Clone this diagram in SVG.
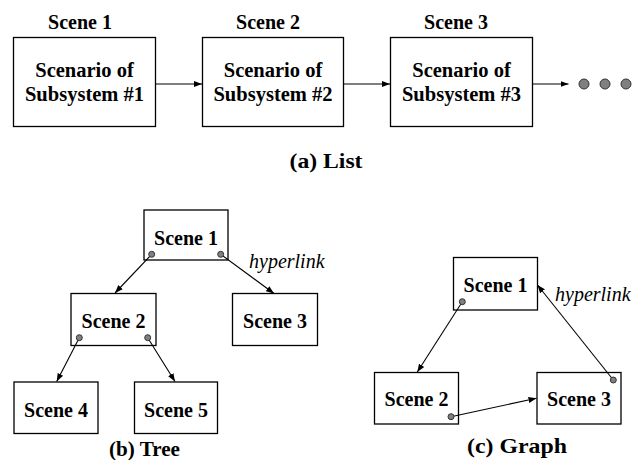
<svg xmlns="http://www.w3.org/2000/svg" width="643" height="460" viewBox="0 0 643 460">
<defs>
<marker id="ah" viewBox="0 0 10 10" refX="10" refY="5" markerWidth="8" markerHeight="8" markerUnits="userSpaceOnUse" orient="auto">
<path d="M0,1.2 L10,5 L0,8.8 z" fill="#000"/>
</marker>
<style>
.box{fill:#fff;stroke:#000;stroke-width:1.3}
text{font-family:"Liberation Serif","Times New Roman",serif;fill:#000}
.t{font-weight:bold;font-size:20px;text-anchor:middle}
.b{font-weight:bold;font-size:20.5px;text-anchor:middle}
.cap{font-weight:bold;font-size:21px;text-anchor:middle}
.hl{font-style:italic;font-size:20px}
.edge{stroke:#000;stroke-width:1.1;fill:none;marker-end:url(#ah)}
.dot{fill:#808080;stroke:#333;stroke-width:1}
</style>
</defs>
<rect width="643" height="460" fill="#fff"/>

<!-- (a) List -->
<g id="list-scene1">
<text class="t" x="80" y="29">Scene 1</text>
<rect class="box" x="13.5" y="37.5" width="142" height="89"/>
<text class="b" x="84.5" y="77">Scenario of</text>
<text class="b" x="84.5" y="101">Subsystem #1</text>
</g>
<g id="list-scene2">
<text class="t" x="268" y="29">Scene 2</text>
<rect class="box" x="202.5" y="37.5" width="141" height="89"/>
<text class="b" x="273" y="77">Scenario of</text>
<text class="b" x="273" y="101">Subsystem #2</text>
</g>
<g id="list-scene3">
<text class="t" x="456" y="29">Scene 3</text>
<rect class="box" x="390.5" y="37.5" width="142" height="89"/>
<text class="b" x="461.5" y="77">Scenario of</text>
<text class="b" x="461.5" y="101">Subsystem #3</text>
</g>
<g id="list-more">
<circle class="dot" cx="584" cy="84" r="5"/>
<circle class="dot" cx="605" cy="84" r="5"/>
<circle class="dot" cx="626" cy="84" r="5"/>
</g>
<text class="cap" x="326" y="168" textLength="73" lengthAdjust="spacingAndGlyphs">(a) List</text>

<!-- (b) Tree -->
<g id="tree-scene1">
<rect class="box" x="144" y="210" width="84" height="50"/>
<text class="t" x="186" y="245">Scene 1</text>
</g>
<g id="tree-scene2">
<rect class="box" x="71" y="293.5" width="85" height="52"/>
<text class="t" x="113.5" y="328">Scene 2</text>
</g>
<g id="tree-scene3">
<rect class="box" x="232.5" y="293.5" width="85" height="52"/>
<text class="t" x="275" y="328">Scene 3</text>
</g>
<g id="tree-scene4">
<rect class="box" x="14" y="382" width="84" height="51.5"/>
<text class="t" x="56" y="416.5">Scene 4</text>
</g>
<g id="tree-scene5">
<rect class="box" x="134.5" y="382" width="83" height="51.5"/>
<text class="t" x="176" y="416.5">Scene 5</text>
</g>
<text class="hl" x="249" y="268">hyperlink</text>
<text class="cap" x="144.5" y="456" textLength="71" lengthAdjust="spacingAndGlyphs">(b) Tree</text>

<!-- (c) Graph -->
<g id="graph-scene1">
<rect class="box" x="453.5" y="257.5" width="84" height="52.5"/>
<text class="t" x="495.5" y="291.5">Scene 1</text>
</g>
<g id="graph-scene2">
<rect class="box" x="374.5" y="372.5" width="84" height="51.5"/>
<text class="t" x="416.5" y="406">Scene 2</text>
</g>
<g id="graph-scene3">
<rect class="box" x="537" y="372.5" width="84" height="51.5"/>
<text class="t" x="579" y="406">Scene 3</text>
</g>
<text class="hl" x="555" y="301">hyperlink</text>
<text class="cap" x="517" y="453" textLength="100" lengthAdjust="spacingAndGlyphs">(c) Graph</text>

<g id="connectors">
<line class="edge" x1="155.5" y1="84" x2="202" y2="84"/>
<line class="edge" x1="343.5" y1="84" x2="390" y2="84"/>
<line class="edge" x1="532.5" y1="84" x2="568.5" y2="84"/>
<line class="edge" x1="151.7" y1="254.3" x2="115" y2="293"/>
<line class="edge" x1="220.7" y1="254.3" x2="274" y2="293.5"/>
<line class="edge" x1="79.3" y1="337.7" x2="56.7" y2="381.5"/>
<line class="edge" x1="147.7" y1="337.7" x2="175" y2="381.5"/>
<line class="edge" x1="462.3" y1="301.7" x2="417.3" y2="372"/>
<line class="edge" x1="451" y1="416.7" x2="536.5" y2="398.3"/>
<line class="edge" x1="613.3" y1="380" x2="537.5" y2="285"/>
<circle class="dot" cx="151.7" cy="254.3" r="3"/>
<circle class="dot" cx="220.7" cy="254.3" r="3"/>
<circle class="dot" cx="79.3" cy="337.7" r="3"/>
<circle class="dot" cx="147.7" cy="337.7" r="3"/>
<circle class="dot" cx="462.3" cy="301.7" r="3"/>
<circle class="dot" cx="451" cy="416.7" r="3"/>
<circle class="dot" cx="613.3" cy="380" r="3"/>
</g>
</svg>
